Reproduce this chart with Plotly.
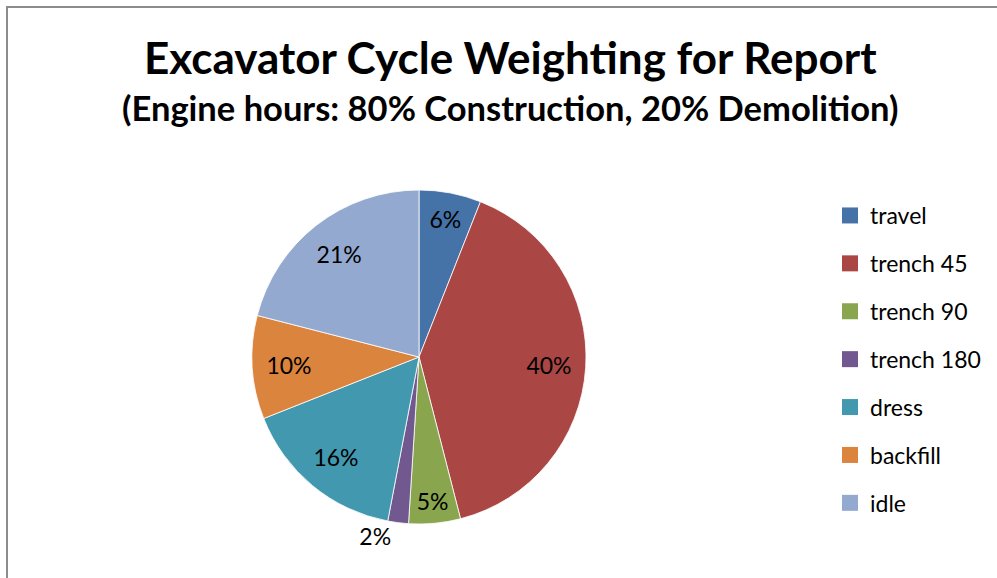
import plotly.graph_objects as go

# Share of engine hours per excavator cycle (percent)
categories = ["travel", "trench 45", "trench 90", "trench 180", "dress", "backfill", "idle"]
shares = [6, 40, 5, 2, 16, 10, 21]
colors = ["#4572A7", "#AA4643", "#89A54E", "#71588F", "#4198AF", "#DB843D", "#93A9CF"]
label_positions = ["inside", "inside", "inside", "outside", "inside", "inside", "inside"]

title_text = "Excavator Cycle Weighting for Report"
subtitle_text = "(Engine hours: 80% Construction, 20% Demolition)"

W, H = 997, 578
FONT = "Lato"

fig = go.Figure()

# Pie centred at (419, 357) px with radius 167 px
cx, cy, r = 419, 357, 167
pie_domain = dict(x=[(cx - r) / W, (cx + r) / W], y=[(H - cy - r) / H, (H - cy + r) / H])

# Solid slices
fig.add_trace(go.Pie(
    labels=categories,
    values=shares,
    sort=False,
    direction="clockwise",
    rotation=0,
    marker=dict(colors=colors, line=dict(color="white", width=0.8)),
    textinfo="none",
    showlegend=False,
    domain=pie_domain,
))

# Percentage labels: a transparent ring on top puts them out toward the rim
fig.add_trace(go.Pie(
    labels=categories,
    values=shares,
    sort=False,
    direction="clockwise",
    rotation=0,
    hole=0.56,
    marker=dict(colors=["rgba(0,0,0,0)"] * len(categories), line=dict(width=0)),
    texttemplate="%{percent:.0%}",
    textposition=label_positions,
    insidetextorientation="horizontal",
    textfont=dict(family=FONT, size=23, color="black"),
    outsidetextfont=dict(family=FONT, size=23, color="black"),
    showlegend=False,
    hoverinfo="skip",
    domain=pie_domain,
))

# Legend entries, one per category, spaced apart with group gaps
for name, color in zip(categories, colors):
    fig.add_trace(go.Scatter(
        x=[None], y=[None], mode="markers", name=name, legendgroup=name,
        marker=dict(symbol="square", size=16, color=color),
        hoverinfo="skip",
    ))

fig.update_layout(
    width=W, height=H,
    margin=dict(l=0, r=0, t=0, b=0),
    paper_bgcolor="white", plot_bgcolor="white",
    xaxis=dict(visible=False), yaxis=dict(visible=False),
    font=dict(family=FONT, color="black"),
    legend=dict(
        x=830 / W, y=(H - 194) / H, xanchor="left", yanchor="top",
        font=dict(family=FONT, size=23, color="black"),
        tracegroupgap=15, bgcolor="rgba(0,0,0,0)",
    ),
    annotations=[
        dict(text="<b>" + title_text + "</b>", x=510 / W, y=(H - 57) / H,
             xref="paper", yref="paper", xanchor="center", yanchor="middle",
             showarrow=False, font=dict(family=FONT, size=44, color="black")),
        dict(text="<b>" + subtitle_text + "</b>", x=510 / W, y=(H - 108) / H,
             xref="paper", yref="paper", xanchor="center", yanchor="middle",
             showarrow=False, font=dict(family=FONT, size=34.5, color="black")),
    ],
    shapes=[
        dict(type="rect", xref="paper", yref="paper",
             x0=7 / W, y0=-0.2, x1=1.2, y1=(H - 7) / H,
             line=dict(color="#8C8C8C", width=2), fillcolor="rgba(0,0,0,0)", layer="above"),
    ],
)

fig.write_html("out.html")
